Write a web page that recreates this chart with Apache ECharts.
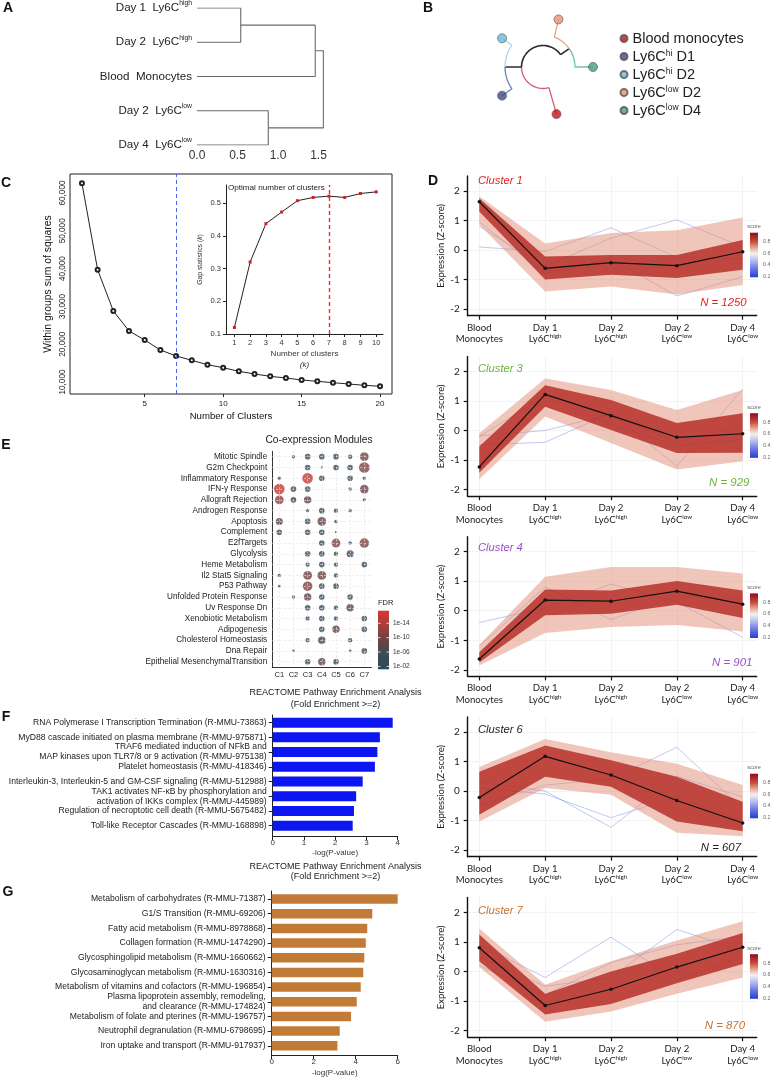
<!DOCTYPE html>
<html><head><meta charset="utf-8">
<script src="https://cdn.jsdelivr.net/npm/echarts@6.0.0/dist/echarts.min.js"></script>
<style>html,body{margin:0;padding:0;background:#fff;}#chart{width:770px;height:1079px;}</style>
</head><body><div id="chart"></div>
<script>
// ================= DATA =================
// A: dendrogram
const dendroLeafBase = ['Day 1  Ly6C', 'Day 2  Ly6C', 'Blood  Monocytes', 'Day 2  Ly6C', 'Day 4  Ly6C'];
const dendroLeafSup = ['high', 'high', '', 'low', 'low'];
const dendroMerges = [[0, 1, 0.54], [3, 4, 0.88], [5, 2, 1.46], [7, 6, 1.56]];
const dendroTicks = [0, 0.5, 1.0, 1.5];

// B: circular tree
const treeLeafNames = ['Blood monocytes', 'Ly6Chi D1', 'Ly6Chi D2', 'Ly6Clow D2', 'Ly6Clow D4'];
const treeLeafParts = [['Blood monocytes', '', ''], ['Ly6C', 'hi', ' D1'], ['Ly6C', 'hi', ' D2'], ['Ly6C', 'low', ' D2'], ['Ly6C', 'low', ' D4']];
const treeLeafAngle = [-74, 215, 145, 72, 0];
const treeLeafRadius = [49, 50, 50, 50, 50];
const treeRootRadius = 21.5;
const treeClades = [{ leaves: [1, 2], angle: 180, radius: 38 }, { leaves: [3, 4], angle: 35, radius: 32 }];

// C: elbow + gap statistic
const elbowK = [1, 2, 3, 4, 5, 6, 7, 8, 9, 10, 11, 12, 13, 14, 15, 16, 17, 18, 19, 20];
const elbowWSS = [62600, 39700, 28800, 23500, 21100, 18470, 16880, 15740, 14580, 13790, 12830, 12120, 11500, 11060, 10530, 10180, 9820, 9470, 9120, 8860];
const elbowTicks = [10000, 20000, 30000, 40000, 50000, 60000];
const elbowXTicks = [5, 10, 15, 20];
const gapK = [1, 2, 3, 4, 5, 6, 7, 8, 9, 10];
const gapStat = [0.12, 0.32, 0.437, 0.4725, 0.507, 0.517, 0.521, 0.517, 0.529, 0.534];
const gapTicks = [0.1, 0.2, 0.3, 0.4, 0.5];
const optimalK = 7;

// D: cluster expression profiles
const timeLabels = [['Blood', 'Monocytes', ''], ['Day 1', 'Ly6C', 'high'], ['Day 2', 'Ly6C', 'high'], ['Day 2', 'Ly6C', 'low'], ['Day 4', 'Ly6C', 'low']];
const zTicks = [-2, -1, 0, 1, 2];
const clusterTitles = ['Cluster 1', 'Cluster 3', 'Cluster 4', 'Cluster 6', 'Cluster 7'];
const clusterSizes = [1250, 929, 901, 607, 870];
const clusterMean = [
  [1.63, -0.62, -0.43, -0.53, -0.06],
  [-1.23, 1.22, 0.50, -0.23, -0.11],
  [-1.63, 0.36, 0.32, 0.66, 0.22],
  [-0.22, 1.17, 0.54, -0.32, -1.08],
  [0.80, -1.15, -0.60, 0.15, 0.82]];
const clusterOuterHi = [
  [1.82, 0.22, 0.57, 0.67, 1.10],
  [-0.09, 1.76, 1.37, 0.69, 1.37],
  [-1.15, 1.15, 1.48, 1.48, 1.26],
  [0.81, 1.76, 1.31, 0.92, 0.20],
  [1.45, -0.45, 0.35, 1.05, 1.70]];
const clusterOuterLo = [
  [0.85, -1.40, -1.23, -1.50, -1.18],
  [-1.65, 0.47, -0.42, -1.32, -1.04],
  [-1.85, -0.75, -0.55, -0.48, -0.70],
  [-1.03, 0.10, -0.13, -1.41, -1.53],
  [0.15, -1.70, -1.35, -0.75, -0.20]];
const clusterCoreHi = [
  [1.75, -0.22, -0.17, -0.17, 0.34],
  [-0.54, 1.53, 1.03, 0.25, 0.58],
  [-1.40, 0.72, 0.68, 1.00, 0.68],
  [0.65, 1.54, 1.04, 0.48, -0.36],
  [1.25, -0.75, 0.00, 0.60, 1.30]];
const clusterCoreLo = [
  [1.30, -1.00, -0.84, -0.95, -0.67],
  [-1.43, 0.80, 0.02, -0.76, -0.75],
  [-1.75, -0.15, -0.10, 0.20, -0.25],
  [-0.80, 0.48, 0.14, -1.03, -1.36],
  [0.35, -1.45, -1.10, -0.40, 0.25]];
const clusterBlueLines = [
  [[0.10, -0.05, 0.75, -0.25, -0.30], [0.80, -0.55, 0.40, 1.02, 0.10], [0.95, -0.80, -0.30, -1.55, -0.90]],
  [[-0.18, 0.00, 0.55, -0.40, 0.20], [-0.48, -0.40, 0.60, -1.20, 1.40], [-0.20, 1.15, 0.20, -0.50, -0.30]],
  [[-0.40, 0.10, 0.90, 0.30, -0.90], [-1.20, 0.80, -0.30, 0.50, 0.40]],
  [[0.30, 0.00, -1.23, 0.50, -0.20], [-0.50, 0.20, 0.40, 1.48, -0.60], [0.10, -0.10, -0.90, -0.20, -1.00]],
  [[0.90, -0.20, 1.16, -0.30, 0.50], [0.50, -0.50, -0.20, 1.42, 0.70], [0.20, -0.80, 0.30, 0.90, 1.20]]];
const scoreTicks = [0.8, 0.6, 0.4, 0.2];

// E: co-expression module enrichment
const moduleRows = ['Mitotic Spindle', 'G2m Checkpoint', 'Inflammatory Response', 'IFN-γ Response', 'Allograft Rejection', 'Androgen Response', 'Apoptosis', 'Complement', 'E2fTargets', 'Glycolysis', 'Heme Metabolism', 'Il2 Stat5 Signaling', 'P53 Pathway', 'Unfolded Protein Response', 'Uv Response Dn', 'Xenobiotic Metabolism', 'Adipogenesis', 'Cholesterol Homeostasis', 'Dna Repair', 'Epithelial MesenchymalTransition'];
const moduleCols = ['C1', 'C2', 'C3', 'C4', 'C5', 'C6', 'C7'];
const dotSizes = [
  [0, 2, 3, 3, 3, 2.5, 4], [0, 0, 3, 1.2, 3, 3, 4.5], [2, 0, 4.5, 3, 0, 3, 2], [4.5, 3, 3, 0, 0, 2, 4],
  [4, 3, 3.6, 0, 0, 0, 2], [0, 0, 2, 3, 2.5, 2, 0], [3.5, 0, 3, 4, 2, 0, 0], [3, 0, 3, 3, 1.2, 0, 0],
  [0, 0, 0, 3, 4, 2, 4.2], [0, 0, 3, 3, 2.5, 3.5, 0], [0, 0, 2.5, 3, 2.5, 0, 3], [2, 0, 4, 4, 2.5, 0, 0],
  [1.5, 0, 4.2, 3, 3, 0, 0], [0, 2, 3.6, 3, 0, 3, 0], [0, 0, 3, 3, 2.5, 3.6, 0], [0, 0, 2.5, 3, 2.5, 0, 3],
  [0, 0, 0, 3, 3.6, 0, 3], [0, 0, 2.5, 3.6, 0, 2.5, 0], [0, 1.5, 0, 0, 0, 1.5, 3], [0, 0, 3, 3.6, 3, 0, 0]];
const dotLogFDR = [
  [0, -3, -4, -4, -4, -3, -10], [0, 0, -4, -3, -4, -4, -11], [-3, 0, -16, -4, 0, -4, -3], [-16, -4, -4, 0, 0, -3, -9],
  [-12, -4, -8, 0, 0, 0, -3], [0, 0, -3, -4, -3, -3, 0], [-8, 0, -4, -9, -3, 0, 0], [-4, 0, -4, -5, -3, 0, 0],
  [0, 0, 0, -4, -11, -3, -11], [0, 0, -4, -4, -4, -6, 0], [0, 0, -3, -4, -3, 0, -4], [-3, 0, -10, -10, -4, 0, 0],
  [-3, 0, -11, -4, -4, 0, 0], [0, -3, -8, -4, 0, -4, 0], [0, 0, -4, -4, -3, -8, 0], [0, 0, -3, -4, -3, 0, -4],
  [0, 0, 0, -4, -9, 0, -4], [0, 0, -3, -6, 0, -3, 0], [0, -3, 0, 0, 0, -3, -4], [0, 0, -4, -8, -4, 0, 0]];
const fdrTicks = [-14, -10, -6, -2];
const fdrRange = [-17.5, -1.2];

// F / G: REACTOME enrichment
const fPathways = ['RNA Polymerase I Transcription Termination (R-MMU-73863)', 'MyD88 cascade initiated on plasma membrane (R-MMU-975871)', 'TRAF6 mediated induction of NFkB and\nMAP kinases upon TLR7/8 or 9 activation (R-MMU-975138)', 'Platelet homeostasis (R-MMU-418346)', 'Interleukin-3, Interleukin-5 and GM-CSF signaling (R-MMU-512988)', 'TAK1 activates NF-κB by phosphorylation and\nactivation of IKKs complex (R-MMU-445989)', 'Regulation of necroptotic cell death (R-MMU-5675482)', 'Toll-like Receptor Cascades (R-MMU-168898)'];
const fLogP = [3.84, 3.43, 3.35, 3.27, 2.88, 2.67, 2.60, 2.56];
const gPathways = ['Metabolism of carbohydrates (R-MMU-71387)', 'G1/S Transition (R-MMU-69206)', 'Fatty acid metabolism (R-MMU-8978868)', 'Collagen formation (R-MMU-1474290)', 'Glycosphingolipid metabolism (R-MMU-1660662)', 'Glycosaminoglycan metabolism (R-MMU-1630316)', 'Metabolism of vitamins and cofactors (R-MMU-196854)', 'Plasma lipoprotein assembly, remodeling,\nand clearance (R-MMU-174824)', 'Metabolism of folate and pterines (R-MMU-196757)', 'Neutrophil degranulation (R-MMU-6798695)', 'Iron uptake and transport (R-MMU-917937)'];
const gLogP = [6.0, 4.79, 4.55, 4.48, 4.41, 4.36, 4.24, 4.05, 3.78, 3.24, 3.13];
const enrichTitle = 'REACTOME Pathway Enrichment Analysis\n(Fold Enrichment >=2)';

// ================= FONTS =================
function hasFont(name) {
  const ctx = document.createElement('canvas').getContext('2d');
  const s = 'abcdefghijklmnopqrstuvwxyzMW0123';
  ctx.font = '20px monospace'; const a = ctx.measureText(s).width;
  ctx.font = '20px "' + name + '", monospace'; const b = ctx.measureText(s).width;
  return Math.abs(a - b) > 0.5;
}
const NARROW = hasFont('Liberation Sans Narrow');
const FN = NARROW ? '"Liberation Sans Narrow","Liberation Sans",Arial,sans-serif' : '"Liberation Sans",Arial,sans-serif';
const FR = '"Liberation Sans",Arial,sans-serif';
const FD = 'Lato,"Open Sans",sans-serif';
const K = NARROW ? 1 / 0.82 : 1;
const fz = s => Math.round(s * K * 10) / 10;

// ================= BUILD =================
const grids = [], xAxes = [], yAxes = [], series = [], graphics = [];
function addGrid(g, x, y) { grids.push(g); const i = grids.length - 1; x.gridIndex = i; y.gridIndex = i; xAxes.push(x); yAxes.push(y); return i; }
function gtext(x, y, text, font, fill, align, valign, lineHeight) {
  const st = { text: text, font: font, fill: fill || '#222', align: align || 'left', verticalAlign: valign || 'middle', textAlign: align || 'left', textVerticalAlign: valign || 'middle' };
  if (lineHeight) st.lineHeight = lineHeight;
  graphics.push({ type: 'text', silent: true, x: x, y: y, z: 50, style: st });
}
const hidden = (min, max, inv) => ({ type: 'value', min: min, max: max, inverse: !!inv, show: false });

// ---- Panel letters
[['A', 8, 8], ['B', 428, 8], ['C', 6, 183], ['D', 433, 181], ['E', 6, 445], ['F', 6, 717], ['G', 8, 892]].forEach(p =>
  gtext(p[1], p[2], p[0], 'bold ' + fz(14) + 'px ' + FN, '#111', 'center', 'middle'));

// ---- A
const gA = addGrid({ left: 197, top: 7, width: 129.6, height: 138 },
  { type: 'value', min: 0, max: 1.6, axisLine: { show: false, onZero: false }, axisTick: { show: false }, splitLine: { show: false },
    axisLabel: { customValues: dendroTicks, formatter: v => v.toFixed(1), fontFamily: FN, fontSize: fz(12), color: '#333', margin: 5 } },
  { type: 'value', min: 0, max: 4, inverse: true, axisLine: { show: false, onZero: false }, axisTick: { show: false }, splitLine: { show: false },
    axisLabel: { customValues: [0, 1, 2, 3, 4], margin: 5,
      formatter: v => '{b|' + dendroLeafBase[v] + '}' + (dendroLeafSup[v] ? '{s|' + dendroLeafSup[v] + '}' : ''),
      rich: { b: { fontFamily: FN, fontSize: fz(11.6), color: '#222', lineHeight: 16 },
              s: { fontFamily: FN, fontSize: fz(6.8), color: '#222', lineHeight: 9, verticalAlign: 'top' } } } });
(function () {
  const nodeY = dendroLeafBase.map((_, i) => i), nodeH = dendroLeafBase.map(() => 0);
  dendroMerges.forEach(([a, b, h]) => {
    series.push({ type: 'line', xAxisIndex: gA, yAxisIndex: gA, silent: true, symbol: 'none',
      data: [[nodeH[a], nodeY[a]], [h, nodeY[a]], [h, nodeY[b]], [nodeH[b], nodeY[b]]],
      lineStyle: { color: '#6a6a6a', width: 1.1 } });
    nodeY.push((nodeY[a] + nodeY[b]) / 2); nodeH.push(h);
  });
})();

// ---- B
const gB = addGrid({ left: 443, top: 0, width: 200, height: 134 }, hidden(-100, 100), hidden(-67, 67));
(function () {
  const branchCol = ['#d45a7a', '#6d80b8', '#a6d9e6', '#e9a488', '#6cc2a8'];
  const dotCol = ['#c8101a', '#3d4d87', '#6cb9d8', '#e89473', '#4a9c80'];
  const rad = a => a * Math.PI / 180;
  const arc = (r, a0, a1) => { const n = Math.max(2, Math.ceil(Math.abs(a1 - a0) / 3)); const p = []; for (let i = 0; i <= n; i++) { const a = rad(a0 + (a1 - a0) * i / n); p.push([r * Math.cos(a), r * Math.sin(a)]); } return p; };
  const radial = (a, r0, r1) => [[r0 * Math.cos(rad(a)), r0 * Math.sin(rad(a))], [r1 * Math.cos(rad(a)), r1 * Math.sin(rad(a))]];
  const path = (pts, color, w) => series.push({ type: 'line', xAxisIndex: gB, yAxisIndex: gB, silent: true, symbol: 'none', data: pts, lineStyle: { color: color, width: w || 1.3 }, z: 2 });
  const R = treeRootRadius;
  path(arc(R, treeClades[1].angle, treeClades[0].angle), '#2b2b2b', 1.6);
  path(arc(R, treeClades[0].angle, 360 + treeLeafAngle[0]), branchCol[0]);
  path(radial(treeLeafAngle[0], R, treeLeafRadius[0]), branchCol[0]);
  treeClades.forEach(c => {
    path(radial(c.angle, R, c.radius), '#2b2b2b', 1.6);
    c.leaves.forEach(li => path(arc(c.radius, c.angle, treeLeafAngle[li]).concat(radial(treeLeafAngle[li], c.radius, treeLeafRadius[li])), branchCol[li]));
  });
  treeLeafNames.forEach((n, i) => series.push({ type: 'scatter', name: n, xAxisIndex: gB, yAxisIndex: gB, silent: true, z: 4,
    data: [[treeLeafRadius[i] * Math.cos(rad(treeLeafAngle[i])), treeLeafRadius[i] * Math.sin(rad(treeLeafAngle[i]))]],
    symbolSize: 9, itemStyle: { color: dotCol[i], borderColor: '#555', borderWidth: 0.8 } }));
})();

// ---- C main
const gC = addGrid({ left: 70, top: 174, width: 322, height: 220, show: true, borderColor: '#222', borderWidth: 1 },
  { type: 'value', min: 0.24, max: 20.76, axisLine: { show: false, onZero: false }, splitLine: { show: false },
    axisTick: { customValues: elbowXTicks, length: 3, lineStyle: { color: '#222' } },
    axisLabel: { customValues: elbowXTicks, fontFamily: FN, fontSize: fz(8), color: '#222', margin: 6 },
    name: 'Number of Clusters', nameLocation: 'middle', nameGap: 17, nameTextStyle: { fontFamily: FN, fontSize: fz(9.6), color: '#111' } },
  { type: 'value', min: 6825, max: 65026, axisLine: { show: false, onZero: false }, splitLine: { show: false }, axisTick: { show: false },
    axisLabel: { customValues: elbowTicks, rotate: 90, fontFamily: FR, fontSize: 8.2, color: '#222', margin: 3 },
    name: 'Within groups sum of squares', nameLocation: 'middle', nameRotate: 90, nameGap: 17, nameTextStyle: { fontFamily: FR, fontSize: 10.4, color: '#111' } });
series.push({ type: 'line', xAxisIndex: gC, yAxisIndex: gC, data: elbowK.map((k, i) => [k, elbowWSS[i]]), silent: true,
  symbol: 'emptyCircle', symbolSize: 4, itemStyle: { color: '#222', borderWidth: 0.9 }, lineStyle: { color: '#222', width: 1 },
  markLine: { silent: true, symbol: 'none', label: { show: false }, lineStyle: { color: '#4a66ee', type: [4, 3], width: 1 }, data: [{ xAxis: optimalK }] } });

// ---- C inset
const gCi = addGrid({ left: 226, top: 185, width: 157, height: 149 },
  { type: 'value', min: 0.467, max: 10.43, splitLine: { show: false }, axisLine: { onZero: false, lineStyle: { color: '#222', width: 1 } },
    axisTick: { customValues: gapK, length: 3, lineStyle: { color: '#222' } },
    axisLabel: { customValues: gapK, fontFamily: FN, fontSize: fz(7.5), margin: 5, color: v => (v === optimalK ? '#e02020' : '#333') },
    name: '{a|Number of clusters}\n{i|(k)}', nameLocation: 'middle', nameGap: 14,
    nameTextStyle: { rich: { a: { fontFamily: FN, fontSize: fz(8.1), color: '#333', lineHeight: 11 }, i: { fontFamily: FN, fontSize: fz(8.1), fontStyle: 'italic', color: '#333', lineHeight: 11 } } } },
  { type: 'value', min: 0.1, max: 0.555, splitLine: { show: false }, axisLine: { onZero: false, lineStyle: { color: '#222', width: 1 } },
    axisTick: { customValues: gapTicks, length: 3, lineStyle: { color: '#222' } },
    axisLabel: { customValues: gapTicks, formatter: v => v.toFixed(1), fontFamily: FN, fontSize: fz(7.5), color: '#333', margin: 5 },
    name: '{a|Gap statistics (}{i|k}{a|)}', nameLocation: 'middle', nameRotate: 90, nameGap: 22,
    nameTextStyle: { rich: { a: { fontFamily: FR, fontSize: 6.8, color: '#333' }, i: { fontFamily: FR, fontSize: 6.8, fontStyle: 'italic', color: '#333' } } } });
series.push({ type: 'line', xAxisIndex: gCi, yAxisIndex: gCi, data: gapK.map((k, i) => [k, gapStat[i]]), silent: true,
  symbol: 'rect', symbolSize: 3, itemStyle: { color: '#d42020' }, lineStyle: { color: '#222', width: 1 },
  markLine: { silent: true, symbol: 'none', label: { show: false }, lineStyle: { color: '#e83030', type: [4, 3], width: 1.4 }, data: [{ xAxis: optimalK }] } });
gtext(228, 188, 'Optimal number of clusters', fz(8.1) + 'px ' + FN, '#222', 'left', 'middle');

// ---- D
const dLeft = 467.7, dWidth = 289, dHeight = 139.7;
const dTops = [176, 356.5, 536.7, 717, 897.5];
const dTitleY = [180.7, 369, 548.3, 730, 910.7];
const dNRight = [746.7, 749.3, 752.3, 741, 745];
const dNY = [302.7, 483.3, 663.3, 847.7, 1026];
const dColors = ['#e3241e', '#6cb33f', '#9a4fc6', '#1e1e1e', '#c57230'];
function band(gi, hi, lo, fill, z) {
  return { type: 'custom', xAxisIndex: gi, yAxisIndex: gi, silent: true, z: z, data: [[0, 0]], encode: { x: 0, y: 1 },
    renderItem: (params, api) => {
      const pts = [];
      hi.forEach((v, j) => pts.push(api.coord([j, v])));
      for (let j = lo.length - 1; j >= 0; j--) pts.push(api.coord([j, lo[j]]));
      return { type: 'polygon', shape: { points: pts }, style: { fill: fill } };
    } };
}
const scoreBar = { min: 0.19, max: 0.95 };
clusterTitles.forEach((t, i) => {
  const gi = addGrid({ left: dLeft, top: dTops[i], width: dWidth, height: dHeight },
    { type: 'value', min: -0.176, max: 4.213,
      axisLine: { onZero: false, lineStyle: { color: '#111', width: 1.4 } },
      axisTick: { customValues: [0, 1, 2, 3, 4], length: 4, lineStyle: { color: '#111', width: 1.2 } },
      axisLabel: { customValues: [0, 1, 2, 3, 4], margin: 6,
        formatter: v => { const l = timeLabels[v]; return '{a|' + l[0] + '}\n{a|' + l[1] + '}' + (l[2] ? '{s|' + l[2] + '}' : ''); },
        rich: { a: { fontFamily: FD, fontSize: 9.6, color: '#222', lineHeight: 11.6 }, s: { fontFamily: FD, fontSize: 6.3, color: '#222', lineHeight: 7, verticalAlign: 'top' } } },
      splitLine: { show: true, lineStyle: { color: '#f0f0f0', width: 0.8 } } },
    { type: 'value', min: -2.22, max: 2.5,
      axisLine: { show: true, onZero: false, lineStyle: { color: '#111', width: 1.4 } },
      axisTick: { show: true, customValues: zTicks, length: 4, lineStyle: { color: '#111', width: 1.2 } },
      axisLabel: { customValues: zTicks, fontFamily: FD, fontSize: 10, color: '#222', margin: 8 },
      splitLine: { show: true, lineStyle: { color: '#f0f0f0', width: 0.8 } },
      name: 'Expression (Z-score)', nameLocation: 'middle', nameRotate: 90, nameGap: 21, nameTextStyle: { fontFamily: FD, fontSize: 9.5, color: '#222' } });
  clusterBlueLines[i].forEach(l => series.push({ type: 'line', xAxisIndex: gi, yAxisIndex: gi, silent: true, symbol: 'none', z: 1,
    data: l.map((v, j) => [j, v]), lineStyle: { color: 'rgba(110,130,225,0.55)', width: 0.8 } }));
  series.push(band(gi, clusterOuterHi[i], clusterOuterLo[i], 'rgba(226,142,120,0.5)', 2));
  series.push(band(gi, clusterCoreHi[i], clusterCoreLo[i], 'rgba(178,34,30,0.78)', 3));
  series.push({ type: 'line', xAxisIndex: gi, yAxisIndex: gi, silent: true, z: 5, data: clusterMean[i].map((v, j) => [j, v]),
    symbol: 'circle', symbolSize: 3.5, itemStyle: { color: '#111' }, lineStyle: { color: '#111', width: 1.2 } });
  gtext(478, dTitleY[i], t, 'italic ' + fz(11.2) + 'px ' + FN, dColors[i], 'left', 'middle');
  gtext(dNRight[i], dNY[i], 'N = ' + clusterSizes[i], 'italic ' + fz(11.4) + 'px ' + FN, dColors[i], 'right', 'middle');
  const top = dTops[i], bx = 750, by = top + 56.7, bh = 44.6;
  gtext(bx + 4, top + 50.7, 'score', '5.5px ' + FR, '#666', 'center', 'middle');
  graphics.push({ type: 'rect', silent: true, z: 50, shape: { x: bx, y: by, width: 8, height: bh },
    style: { fill: new echarts.graphic.LinearGradient(0, 0, 0, 1, [
      { offset: 0, color: '#8e0c1c' }, { offset: 0.2, color: '#cc4a3a' }, { offset: 0.36, color: '#eab3a0' },
      { offset: 0.47, color: '#f4f0f0' }, { offset: 0.62, color: '#b5bff2' }, { offset: 0.82, color: '#6373e4' }, { offset: 1, color: '#2c3dcc' }]) } });
  scoreTicks.forEach(v => gtext(bx + 13, by + (scoreBar.max - v) / (scoreBar.max - scoreBar.min) * bh, v.toFixed(1), '5.5px ' + FR, '#666', 'left', 'middle'));
});

// ---- E
const gE = addGrid({ left: 272.2, top: 451.3, width: 99.2, height: 215.8 },
  { type: 'category', data: moduleCols, boundaryGap: true, axisLine: { lineStyle: { color: '#333' } },
    axisTick: { alignWithLabel: true, length: 3, lineStyle: { color: '#333' } },
    axisLabel: { interval: 0, fontFamily: FN, fontSize: fz(7.5), color: '#222', margin: 4 }, splitLine: { show: false } },
  { type: 'category', data: moduleRows, inverse: true, boundaryGap: true, axisLine: { lineStyle: { color: '#333' } },
    axisTick: { alignWithLabel: true, length: 3, lineStyle: { color: '#333' } },
    axisLabel: { interval: 0, fontFamily: FN, fontSize: fz(8.2), color: '#222', margin: 5 }, splitLine: { show: false } });
const eData = [];
moduleRows.forEach((r, ri) => moduleCols.forEach((c, ci) => { const s = dotSizes[ri][ci]; if (s > 0) eData.push([ci, ri, s, dotLogFDR[ri][ci]]); }));
const eSeriesIndex = series.length;
series.push({ type: 'scatter', xAxisIndex: gE, yAxisIndex: gE, silent: true, z: 3, data: eData,
  symbolSize: d => 0.45 * d[2] * d[2] + 1.6,
  markLine: { silent: true, symbol: 'none', label: { show: false }, lineStyle: { color: '#e2e2e2', type: [2, 2], width: 0.7 },
    data: moduleCols.map(c => ({ xAxis: c })).concat(moduleRows.map(r => ({ yAxis: r }))) } });
const fdrColors = ['#d8372c', '#a3403d', '#6c4246', '#3d4a58', '#2b4a5e'];
gtext(378, 603, 'FDR', fz(7.5) + 'px ' + FN, '#222', 'left', 'middle');
(function () {
  const x = 378, y = 610.7, w = 11, h = 58.6;
  graphics.push({ type: 'rect', silent: true, z: 50, shape: { x: x, y: y, width: w, height: h },
    style: { fill: new echarts.graphic.LinearGradient(0, 0, 0, 1, fdrColors.map((c, i) => ({ offset: i / (fdrColors.length - 1), color: c }))) } });
  fdrTicks.forEach(v => {
    const yy = y + (v - fdrRange[0]) / (fdrRange[1] - fdrRange[0]) * h;
    graphics.push({ type: 'line', silent: true, z: 51, shape: { x1: x, y1: yy, x2: x + 2.5, y2: yy }, style: { stroke: '#fff', lineWidth: 0.8 } });
    graphics.push({ type: 'line', silent: true, z: 51, shape: { x1: x + w - 2.5, y1: yy, x2: x + w, y2: yy }, style: { stroke: '#fff', lineWidth: 0.8 } });
    gtext(393, yy, '1e-' + String(-v).padStart(2, '0'), fz(6.5) + 'px ' + FN, '#333', 'left', 'middle');
  });
})();
gtext(319, 440, 'Co-expression Modules', fz(10.2) + 'px ' + FN, '#222', 'center', 'middle');

// ---- F / G
function barSeries(gi, vals, color, h) {
  return { type: 'custom', xAxisIndex: gi, yAxisIndex: gi, silent: true, data: vals.map((v, i) => [v, i]), encode: { x: 0, y: 1 },
    renderItem: (p, api) => { const y = api.value(1); const a = api.coord([0, y]); const b = api.coord([api.value(0), y]);
      return { type: 'rect', shape: { x: a[0], y: a[1] - h / 2, width: b[0] - a[0], height: h }, style: { fill: color } }; } };
}
function enrichAxes(left, top, width, height, xmax, xint, names, ymin, ymax, nameGap) {
  return addGrid({ left: left, top: top, width: width, height: height },
    { type: 'value', min: 0, max: xmax, interval: xint, splitLine: { show: false },
      axisLine: { onZero: false, lineStyle: { color: '#222', width: 1 } }, axisTick: { length: 4, lineStyle: { color: '#222' } },
      axisLabel: { fontFamily: FN, fontSize: fz(8), color: '#333', margin: 3 },
      name: '-log(P-value)', nameLocation: 'middle', nameGap: nameGap, nameTextStyle: { fontFamily: FN, fontSize: fz(8), color: '#333' } },
    { type: 'value', min: ymin, max: ymax, inverse: true, splitLine: { show: false },
      axisLine: { onZero: false, lineStyle: { color: '#222', width: 1 } },
      axisTick: { customValues: names.map((_, i) => i), length: 4, lineStyle: { color: '#222' } },
      axisLabel: { customValues: names.map((_, i) => i), formatter: v => names[v], fontFamily: FN, fontSize: fz(8.6), color: '#222', margin: 6, lineHeight: 10, align: 'right' } });
}
const gF = enrichAxes(272.7, 715, 125, 121, 4, 1, fPathways, -0.52, 7.7, 13);
series.push(barSeries(gF, fLogP, '#0b16f0', 10));
gtext(335.5, 698.5, enrichTitle, fz(9) + 'px ' + FN, '#222', 'center', 'middle', 11.3);
const gG = enrichAxes(271.7, 891, 126, 164, 6, 2, gPathways, -0.55, 10.63, 14);
series.push(barSeries(gG, gLogP, '#c27b37', 9.5));
gtext(335.5, 871.7, enrichTitle, fz(9) + 'px ' + FN, '#222', 'center', 'middle', 10.5);

// ================= RENDER =================
const chart = echarts.init(document.getElementById('chart'), null, { renderer: 'canvas', width: 770, height: 1079 });
chart.setOption({
  animation: false,
  backgroundColor: '#ffffff',
  grid: grids, xAxis: xAxes, yAxis: yAxes, series: series, graphic: { elements: graphics },
  legend: { orient: 'vertical', left: 619.5, top: 31, padding: 0, itemGap: 3, itemWidth: 7, itemHeight: 7, icon: 'circle', selectedMode: false,
    data: treeLeafNames,
    formatter: name => { const p = treeLeafParts[treeLeafNames.indexOf(name)]; return '{b|' + p[0] + '}' + (p[1] ? '{s|' + p[1] + '}{b|' + p[2] + '}' : ''); },
    textStyle: { rich: { b: { fontFamily: FN, fontSize: fz(14.5), color: '#222', lineHeight: 14 }, s: { fontFamily: FN, fontSize: fz(8.5), color: '#222', lineHeight: 8, verticalAlign: 'top' } } } },
  visualMap: [{ type: 'continuous', show: false, seriesIndex: eSeriesIndex, dimension: 3, min: fdrRange[0], max: fdrRange[1], inRange: { color: fdrColors } }]
});
</script></body></html>
